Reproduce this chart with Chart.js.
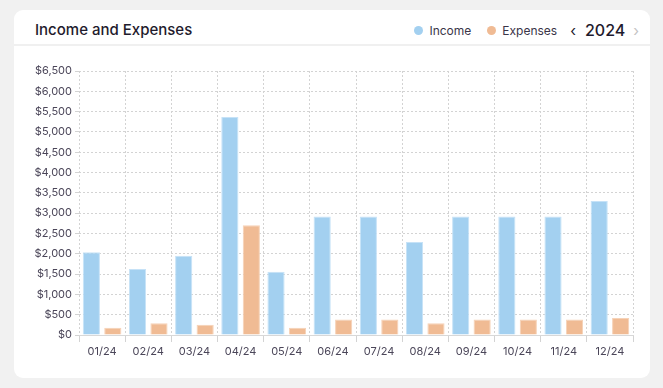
<!DOCTYPE html>
<html lang="en">
<head>
    <meta charset="UTF-8">
    <title>Income and Expenses</title>
    <style>
        body {
            margin: 0;
            width: 663px;
            height: 388px;
            background: #f1f1f1;
            font-family: 'Inter', 'Lato', sans-serif;
            overflow: hidden;
        }

        /* White card */
        .card {
            position: absolute;
            left: 14px;
            top: 10px;
            width: 636px;
            height: 368px;
            background: #fff;
            border-radius: 9px;
        }

        .header {
            position: absolute;
            left: 0;
            top: 0;
            width: 636px;
            height: 34px;
            border-bottom: 2px solid #f0f0f0;
        }

        .title {
            position: absolute;
            left: 21px;
            top: 10px;
            font-size: 15px;
            color: #1f1b2d;
            font-weight: 500;
        }

        .legend {
            position: absolute;
            right: 11px;
            top: 10px;
            display: flex;
            align-items: center;
            font-size: 12px;
            color: #3a3548;
        }

        .dot {
            width: 9px;
            height: 9px;
            border-radius: 50%;
            display: inline-block;
            margin-right: 6px;
        }

        .item { display: flex; align-items: center; margin-right: 16px; }
        .item.last { margin-right: 13px; }
        .year { font-size: 16px; color: #1f1b2d; font-weight: 500; margin: 0 8px 0 9px; }
        .arrow { font-size: 15px; color: #1f1b2d; }
        .arrow.off { color: #c4c4c4; }

        #chartBox {
            position: absolute;
            left: 14px;
            top: 50px;
            width: 636px;
            height: 320px;
        }
    </style>
    <script src="https://cdn.jsdelivr.net/npm/chart.js"></script>
</head>
<body>
    <div class="card">
        <div class="header">
            <div class="title">Income and Expenses</div>
            <div class="legend">
                <div class="item"><span class="dot" style="background:#a3d0f0"></span>Income</div>
                <div class="item last"><span class="dot" style="background:#f0bb94"></span>Expenses</div>
                <span class="arrow">&#8249;</span>
                <span class="year">2024</span>
                <span class="arrow off">&#8250;</span>
            </div>
        </div>
    </div>

    <div id="chartBox"><canvas id="incomeChart"></canvas></div>

    <script>
        // data
        const months = ['01/24', '02/24', '03/24', '04/24', '05/24', '06/24', '07/24', '08/24', '09/24', '10/24', '11/24', '12/24'];
        const income = [2040, 1625, 1950, 5370, 1560, 2920, 2920, 2290, 2920, 2920, 2920, 3300];
        const expenses = [180, 290, 250, 2700, 180, 380, 380, 290, 380, 380, 380, 420];

        const tickColor = '#4b4659';
        const gridColor = '#d3d3d3';

        const ctx = document.getElementById('incomeChart').getContext('2d');
        new Chart(ctx, {
            type: 'bar',
            data: {
                labels: months,
                datasets: [{
                    label: 'Income',
                    data: income,
                    backgroundColor: '#a3d0f0',
                    borderColor: '#c6e2f7',
                    borderWidth: 1,
                    categoryPercentage: 0.93,
                    barPercentage: 0.8
                }, {
                    label: 'Expenses',
                    data: expenses,
                    backgroundColor: '#f0bb94',
                    borderColor: '#f6d2b7',
                    borderWidth: 1,
                    categoryPercentage: 0.93,
                    barPercentage: 0.8
                }]
            },
            options: {
                responsive: true,
                maintainAspectRatio: false,
                animation: false,
                layout: { padding: { top: 21, right: 17, left: 0, bottom: 0 } },
                plugins: {
                    legend: { display: false },
                    tooltip: { enabled: false }
                },
                scales: {
                    x: {
                        grid: { color: gridColor, tickLength: 7, offset: true },
                        border: { display: true, color: '#d8d8d8', width: 1, dash: [2, 2] },
                        ticks: { color: tickColor, font: { family: 'Inter', size: 11 }, padding: 3, maxRotation: 0 },
                        afterFit: function (scale) { scale.height = 35; }
                    },
                    y: {
                        min: 0,
                        max: 6500,
                        grid: { color: gridColor, tickLength: 4 },
                        border: { display: false, dash: [2, 2] },
                        ticks: {
                            stepSize: 500,
                            color: tickColor,
                            font: { family: 'Inter', size: 11 },
                            padding: 3,
                            callback: v => '$' + v.toLocaleString('en-US')
                        },
                        afterFit: function (scale) { scale.width = 65; }
                    }
                }
            }
        });
    </script>
</body>
</html>
